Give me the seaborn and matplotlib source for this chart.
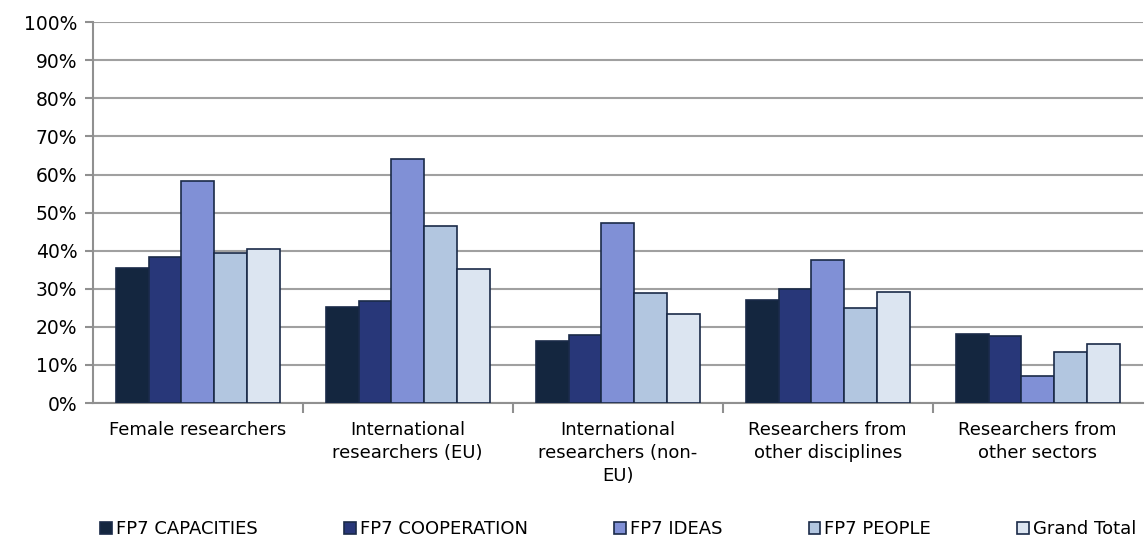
import pandas as pd
import matplotlib.pyplot as plt
import seaborn as sns
from matplotlib.ticker import FixedLocator, PercentFormatter

# data
categories = ['Female researchers', 'International\nresearchers (EU)',
              'International\nresearchers (non-\nEU)', 'Researchers from\nother disciplines',
              'Researchers from\nother sectors']
series = ['FP7 CAPACITIES', 'FP7 COOPERATION', 'FP7 IDEAS', 'FP7 PEOPLE', 'Grand Total']
capacities = [35.4, 25.3, 16.4, 27.0, 18.2]
cooperation = [38.4, 26.7, 17.8, 29.9, 17.6]
ideas = [58.3, 64.2, 47.2, 37.6, 7.2]
people = [39.4, 46.5, 29.0, 25.0, 13.5]
grand_total = [40.5, 35.1, 23.4, 29.1, 15.5]
colors = ['#14263f', '#283779', '#8090d6', '#b2c6e0', '#dce5f1']

rows = []
for name, vals in zip(series, [capacities, cooperation, ideas, people, grand_total]):
    for cat, v in zip(categories, vals):
        rows.append({'category': cat, 'series': name, 'value': v})
df = pd.DataFrame(rows)

plt.rcParams['font.family'] = ['DejaVu Sans']
fig = plt.figure(figsize=(11.45, 5.41), dpi=100)
ax = fig.add_axes([0.081, 0.255, 0.917, 0.704])

sns.barplot(data=df, x='category', y='value', hue='series', order=categories,
            hue_order=series, palette=colors, saturation=1, width=0.78,
            edgecolor='#1a2a48', linewidth=1.2, ax=ax, zorder=3)

ax.set_ylim(0, 100)
ax.set_xlim(-0.5, len(categories) - 0.5)
ax.yaxis.set_major_locator(FixedLocator(range(0, 101, 10)))
ax.yaxis.set_major_formatter(PercentFormatter(decimals=0))
ax.grid(axis='y', color='#a0a0a0', linewidth=1.5, zorder=0)
ax.set_axisbelow(True)
ax.set_xlabel('')
ax.set_ylabel('')

# category boundaries as tick marks
ax.xaxis.set_minor_locator(FixedLocator([i + 0.5 for i in range(len(categories) - 1)]))
ax.tick_params(axis='x', which='major', length=0, pad=13, labelsize=13, colors='#000000')
ax.tick_params(axis='x', which='minor', length=7, width=1.5, color='#909090')
ax.tick_params(axis='y', length=6, width=1.5, color='#909090', labelsize=13.5, pad=5)
for lbl in ax.get_xticklabels():
    lbl.set_linespacing(1.35)

for s in ['top', 'right']:
    ax.spines[s].set_visible(False)
for s in ['left', 'bottom']:
    ax.spines[s].set_color('#909090')
    ax.spines[s].set_linewidth(1.5)

handles, labels = ax.get_legend_handles_labels()
ax.get_legend().remove()
fig.legend(handles, labels, loc='center', bbox_to_anchor=(0.54, 0.022), ncol=5,
           frameon=False, fontsize=13, handlelength=0.65, handleheight=0.65,
           handletextpad=0.2, columnspacing=4.8)

plt.savefig('out.png', dpi=100)
